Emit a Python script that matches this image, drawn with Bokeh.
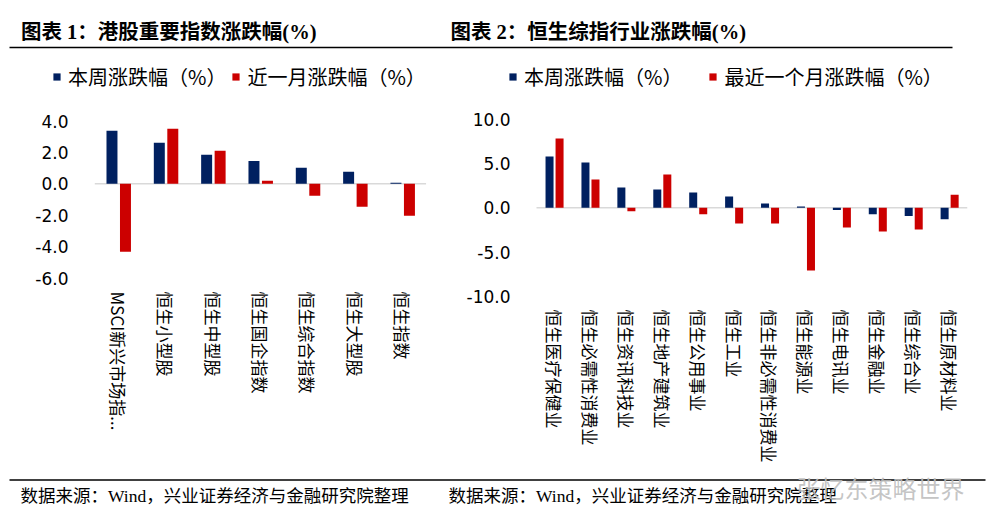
import math
from bokeh.plotting import figure
from bokeh.models import (ColumnDataSource, Range1d, FixedTicker,
                          NumeralTickFormatter, Legend, LegendItem)
from bokeh.layouts import column, row
from bokeh.transform import dodge
from bokeh.core.properties import value
from bokeh.embed import file_html
from bokeh.resources import INLINE

# ---------------- data ----------------
hk_categories = ["MSCI新兴市场指...", "恒生小型股", "恒生中型股", "恒生国企指数",
                 "恒生综合指数", "恒生大型股", "恒生指数"]
hk_week = [3.38, 2.61, 1.85, 1.46, 1.02, 0.76, 0.06]
hk_month = [-4.33, 3.50, 2.10, 0.19, -0.76, -1.46, -2.04]
hk_ticks = [-6, -4, -2, 0, 2, 4]

ind_categories = ["恒生医疗保健业", "恒生必需性消费业", "恒生资讯科技业", "恒生地产建筑业",
                  "恒生公用事业", "恒生工业", "恒生非必需性消费业", "恒生能源业",
                  "恒生电讯业", "恒生金融业", "恒生综合业", "恒生原材料业"]
ind_week = [5.81, 5.13, 2.30, 2.08, 1.74, 1.28, 0.49, 0.15, -0.26, -0.72, -0.94, -1.30]
ind_month = [7.85, 3.21, -0.38, 3.77, -0.72, -1.77, -1.77, -7.09, -2.23, -2.68, -2.45, 1.49]
ind_ticks = [-10, -5, 0, 5, 10]

title_left = "图表 1：港股重要指数涨跌幅(%)"
title_right = "图表 2：恒生综指行业涨跌幅(%)"
legend_week = "本周涨跌幅（%）"
legend_month_left = "近一月涨跌幅（%）"
legend_month_right = "最近一个月涨跌幅（%）"
source_text = "数据来源：Wind，兴业证券经济与金融研究院整理"
watermark = "张忆东策略世界"

BLUE = "#002060"
RED = "#CC0000"
CJK = "Noto Sans CJK SC"
MIXED = "'Liberation Serif', 'Noto Sans CJK SC'"

TOTAL_W = 988
TOP_H = 56
MID_H = 440          # mid row: page y 56 .. 496
FRAME_BOTTOM = 296   # both plot frames share the same vertical extent
BOT_Y0 = 466         # footer starts here (overlaps the blank bottom of the mid row)
BOT_H = 521 - BOT_Y0
OVERLAP = TOP_H + MID_H - BOT_Y0


def blank(width, height, x0, x1, y0, y1):
    f = figure(width=width, height=height, x_range=Range1d(x0, x1), y_range=Range1d(y0, y1),
               x_axis_type=None, y_axis_type=None, toolbar_location=None,
               output_backend="svg", min_border=0, outline_line_color=None)
    return f


# ---------------- header ----------------
top = blank(TOTAL_W, TOP_H, 0, TOTAL_W, TOP_H, 0)
top.text(x=[20.5, 450], y=[31, 31], text=[title_left, title_right],
         text_font=value(MIXED), text_font_style="bold", text_font_size="20.5px",
         text_baseline="middle", text_color="#000000")
top.segment(x0=[9], y0=[47], x1=[952], y1=[47], line_color="#000000", line_width=1.3)


def make_chart(cats, week, month, ticks, px_per_unit, anchor_val, anchor_page,
               fig_left, fig_width, frame_left, frame_right, cats_left, cats_right,
               y_standoff, x_standoff, legend_month, leg_spacing,
               leg_x, leg_bottom, off_w, off_m, bw):
    n = len(cats)
    idx = list(range(n))
    cat_px = (cats_right - cats_left) / n
    x_start = -0.5 - (cats_left - frame_left) / cat_px
    x_end = n - 0.5 + (frame_right - cats_right) / cat_px
    frame_h = FRAME_BOTTOM - TOP_H
    bb = MID_H - frame_h
    y_start = anchor_val - (FRAME_BOTTOM - anchor_page) / px_per_unit
    src = ColumnDataSource(dict(idx=idx, week=week, month=month))
    p = figure(width=fig_width, height=MID_H, x_range=Range1d(x_start, x_end),
               y_range=Range1d(y_start, y_start + frame_h / px_per_unit),
               toolbar_location=None, output_backend="svg",
               min_border_left=frame_left - fig_left,
               min_border_right=fig_left + fig_width - frame_right,
               min_border_top=0, min_border_bottom=bb, outline_line_color=None)
    # zero baseline across the category band
    p.segment(x0=[-0.5], y0=[0], x1=[n - 0.5], y1=[0], line_color="#D9D9D9", line_width=1.5)
    rw = p.vbar(x=dodge("idx", off_w), top="week", width=bw,
                source=src, fill_color=BLUE, line_color=None)
    rm = p.vbar(x=dodge("idx", off_m), top="month", width=bw,
                source=src, fill_color=RED, line_color=None)
    p.xgrid.visible = False
    p.ygrid.visible = False
    for ax in (p.xaxis, p.yaxis):
        ax.axis_line_color = None
        ax.major_tick_line_color = None
        ax.minor_tick_line_color = None
        ax.major_tick_out = 0
        ax.major_tick_in = 0
        ax.minor_tick_out = 0
        ax.minor_tick_in = 0
        ax.major_label_text_color = "#000000"
    p.xaxis.ticker = FixedTicker(ticks=idx, minor_ticks=[])
    p.xaxis.major_label_overrides = {i: c for i, c in zip(idx, cats)}
    p.xaxis.major_label_orientation = -math.pi / 2
    p.xaxis.major_label_standoff = x_standoff
    p.xaxis.major_label_text_font = CJK
    p.xaxis.major_label_text_font_size = "17px"
    p.yaxis.ticker = FixedTicker(ticks=ticks, minor_ticks=[])
    p.yaxis.formatter = NumeralTickFormatter(format="0.0")
    p.yaxis.major_label_standoff = y_standoff
    p.yaxis.major_label_text_font = "DejaVu Sans"
    p.yaxis.major_label_text_font_size = "17px"
    leg = Legend(items=[LegendItem(label=legend_week, renderers=[rw]),
                        LegendItem(label=legend_month, renderers=[rm])],
                 orientation="horizontal",
                 location=(leg_x - frame_left, FRAME_BOTTOM - leg_bottom),
                 glyph_width=9, glyph_height=9,
                 label_standoff=7, spacing=leg_spacing, padding=0, margin=0,
                 border_line_color=None, background_fill_alpha=0,
                 label_text_font=CJK, label_text_font_size="20px",
                 label_text_color="#000000", label_height=20)
    p.add_layout(leg)
    return p


left = make_chart(hk_categories, hk_week, hk_month, hk_ticks, 15.7, -6, 277.5,
                  0, 448, 45, 426, 94.3, 425.6, -23, -5,
                  legend_month_left, 5, 52, 91, -0.137, 0.148, 0.232)
right = make_chart(ind_categories, ind_week, ind_month, ind_ticks, 8.84, -10, 295.7,
                   448, 540, 500, 967, 536, 967, -10, 13,
                   legend_month_right, 26, 508, 91, -0.137, 0.142, 0.223)

# ---------------- footer ----------------
bot = blank(TOTAL_W, BOT_H, 0, TOTAL_W, 521, BOT_Y0)
bot.background_fill_alpha = 0
bot.border_fill_alpha = 0
bot.margin = (-OVERLAP, 0, 0, 0)
bot.segment(x0=[9], y0=[479.5], x1=[985], y1=[479.5], line_color="#000000", line_width=1.3)
bot.text(x=[20, 448], y=[495, 495], text=[source_text, source_text],
         text_font=value(MIXED), text_font_size="17.5px", text_baseline="middle",
         text_color="#000000")
bot.text(x=[796], y=[487], text=[watermark], text_font=value(CJK), text_font_size="24px",
         text_baseline="middle", text_color="#BDBDBD", text_alpha=0.9)

layout = column(top, row(left, right), bot)
open("out.html", "w").write(file_html(layout, INLINE))
